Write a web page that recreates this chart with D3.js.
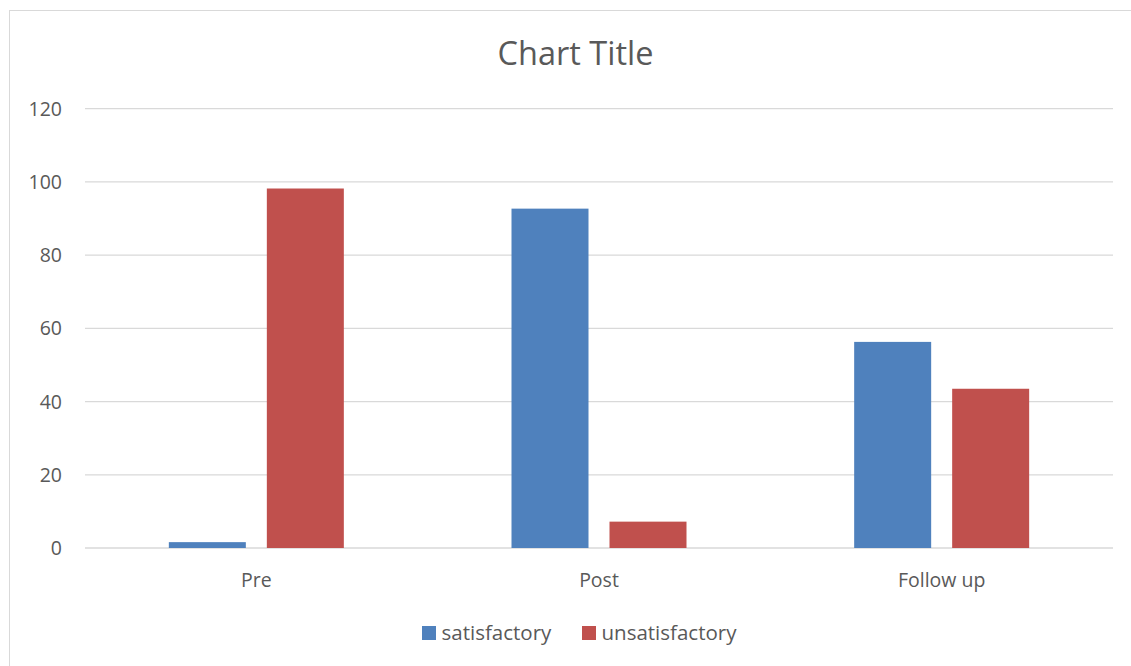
<!DOCTYPE html>
<html><head><meta charset="utf-8">
<script src="https://cdn.jsdelivr.net/npm/d3@7"></script>
<style>body{margin:0;background:#fff;}svg{display:block;}</style>
</head><body>
<svg id="c" width="1131" height="666"></svg>
<script>
const categories = ["Pre", "Post", "Follow up"];
const seriesNames = ["satisfactory", "unsatisfactory"];
const satisfactory = [1.6, 92.7, 56.3];
const unsatisfactory = [98.2, 7.2, 43.5];
const yTicks = [0, 20, 40, 60, 80, 100, 120];
const colors = ["#4F81BD", "#C0504D"];

const svg = d3.select("#c");
const font = "'Open Sans', 'Noto Sans', sans-serif";
const L = 85, R = 1113, T = 108.7, B = 548;

svg.append("rect").attr("x", 9.5).attr("y", 10.5).attr("width", 1140).attr("height", 700)
  .attr("fill", "#fff").attr("stroke", "#D9D9D9").attr("stroke-width", 1);

const x = d3.scaleBand().domain(categories).range([L, R]);
const y = d3.scaleLinear().domain([0, 120]).range([B, T]);
const groupW = 175;
const inner = d3.scaleBand().domain(seriesNames)
  .range([(x.bandwidth()-groupW)/2, (x.bandwidth()-groupW)/2 + groupW])
  .paddingInner(21/98).paddingOuter(0);

svg.append("g").selectAll("line").data(yTicks).join("line")
  .attr("x1", L).attr("x2", R).attr("y1", d => y(d)).attr("y2", d => y(d))
  .attr("stroke", "#D9D9D9").attr("stroke-width", 1.3);

svg.append("g").selectAll("text").data(yTicks).join("text")
  .attr("x", 62).attr("y", d => y(d) + 7).attr("text-anchor", "end")
  .attr("font-family", font).attr("font-size", 19.5).attr("fill", "#595959").text(d => d);

const data = [satisfactory, unsatisfactory];
const g = svg.append("g");
seriesNames.forEach((s, si) => {
  g.selectAll("rect.s" + si).data(categories).join("rect")
    .attr("x", c => x(c) + inner(s))
    .attr("width", inner.bandwidth())
    .attr("y", (c, i) => y(data[si][i]))
    .attr("height", (c, i) => y(0) - y(data[si][i]))
    .attr("fill", colors[si]);
});

svg.append("g").selectAll("text").data(categories).join("text")
  .attr("x", c => x(c) + x.bandwidth()/2).attr("y", 587).attr("text-anchor", "middle")
  .attr("font-family", font).attr("font-size", 19.5).attr("fill", "#595959").text(c => c);

svg.append("text").attr("x", 575.5).attr("y", 65).attr("text-anchor", "middle")
  .attr("font-family", font).attr("font-size", 32.5).attr("fill", "#595959").text("Chart Title");

const legX = [422, 582];
seriesNames.forEach((s, i) => {
  svg.append("rect").attr("x", legX[i]).attr("y", 626).attr("width", 14).attr("height", 14).attr("fill", colors[i]);
  svg.append("text").attr("x", legX[i] + 19.5).attr("y", 640)
    .attr("font-family", font).attr("font-size", 20.5).attr("fill", "#595959").text(s);
});
</script>
</body></html>
